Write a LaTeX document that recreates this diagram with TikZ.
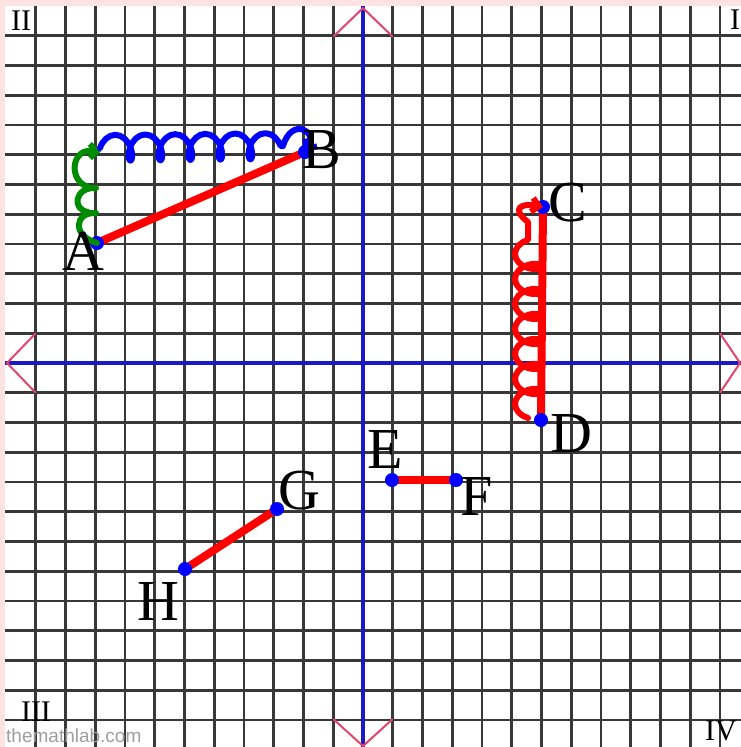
\documentclass[tikz,border=0pt]{standalone}
\usepackage{fontspec}
\setmainfont{Liberation Serif}
\newfontfamily\wmfont{Liberation Sans}
\usetikzlibrary{decorations.pathmorphing,arrows.meta}
\definecolor{pinkbg}{RGB}{255,226,226}
\definecolor{axisblue}{RGB}{25,25,200}
\definecolor{chev}{RGB}{225,70,110}
\definecolor{segred}{RGB}{255,0,0}
\definecolor{dotblue}{RGB}{0,0,255}
\definecolor{coilgreen}{RGB}{0,140,0}
\tikzset{
  gridline/.style={draw=black!78,line width=2.6pt},
  axisline/.style={draw=axisblue,line width=4pt},
  chevron/.style={draw=chev,line width=2pt},
  seg/.style={draw=segred,line width=8pt},
  ptdot/.style={fill=dotblue},
  bigletter/.style={font=\fontsize{58}{58}\selectfont,inner sep=0pt,anchor=base},
  quadlabel/.style={font=\fontsize{30}{30}\selectfont,inner sep=0pt,anchor=base},
  coilpath/.style={line width=6pt,line cap=round,line join=round,
     -{Straight Barb[length=7pt,width=14pt]}},
  coilA/.style={decoration={coil,aspect=0.6,amplitude=13pt,segment length=#1}},
}
\begin{document}
\begin{tikzpicture}[x=1pt,y=-1pt]
\fill[pinkbg] (0,0) rectangle (741,747);
\useasboundingbox (0,0) rectangle (741,747);
\begin{scope}
\clip (5,6) rectangle (741,747);
\fill[white] (5,6) rectangle (741,747);
\foreach \k in {-11,...,12} {
  \draw[gridline] ({363+\k*29.75},6) -- ({363+\k*29.75},747);
  \draw[gridline] (5,{363+\k*29.75}) -- (741,{363+\k*29.75});
}
% axes
\coordinate (xl) at (5,363);
\coordinate (xr) at (741,363);
\coordinate (yt) at (363,6);
\coordinate (yb) at (363,747);
\draw[axisline] (xl) -- (xr);
\draw[axisline] (yt) -- (yb);
% axis chevrons
\draw[chevron] (333.25,36.75) -- (363,8) -- (392.75,36.75);
\draw[chevron] (333.25,719) -- (363,746) -- (392.75,719);
\draw[chevron] (35.75,333.25) -- (7,363) -- (35.75,392.75);
\draw[chevron] (720,333.25) -- (740,363) -- (720,392.75);
% quadrant labels
\node[quadlabel] (qII) at (21,30) {II};
\node[quadlabel] (qI) at (735,29) {I};
\node[quadlabel] (qIII) at (36,721) {III};
\node[quadlabel,anchor=base west] (qIV) at (705,740) {IV};
\end{scope}
\node[font=\wmfont\fontsize{19}{19}\selectfont,text=black!38,inner sep=0pt,anchor=base west] (wm) at (6,742) {themathlab.com};
% points
\coordinate (A) at (97,243);
\coordinate (B) at (305,152);
\coordinate (C) at (543,207);
\coordinate (D) at (541,420);
\coordinate (E) at (392,480);
\coordinate (F) at (456,480);
\coordinate (G) at (277,509);
\coordinate (H) at (185,569);
% coil way points
\coordinate (Ba) at (100,148);
\coordinate (Bb) at (283,146);
\coordinate (Ra) at (528,418);
\coordinate (Rb) at (528,222);
\coordinate (Gc) at (101,151);
% segments
\draw[seg] (A) -- (B);
\draw[seg] (C) -- (D);
\draw[seg] (E) -- (F);
\draw[seg] (G) -- (H);
% dots
\foreach \p in {A,B,C,D,E,F,G,H} { \fill[ptdot] (\p) circle (7pt); }
% coils
\draw[coilpath,draw=coilgreen] (A) .. controls (72,236) and (74,212) .. (96,213)
   .. controls (88,213) and (87,214) .. (88,212)
   .. controls (72,210) and (74,187) .. (96,188)
   .. controls (88,188) and (87,189) .. (88,187)
   .. controls (68,180) and (72,150) .. (90,151) -- (Gc);
\draw[coilpath,draw=dotblue] (Ba) decorate[coilA=30pt]{-- (Bb)} .. controls (292,116) and (318,132) .. (B);
\draw[coilpath,draw=segred] (Ra) decorate[coilA=25pt]{-- (Rb)} .. controls (510,208) and (522,203) .. (C);
% letters
\node[bigletter] (lA) at (83,270) {A};
\node[bigletter] (lB) at (322,168) {B};
\node[bigletter] (lC) at (568,221) {C};
\node[bigletter] (lD) at (571,452) {D};
\node[bigletter] (lE) at (385,468) {E};
\node[bigletter] (lF) at (477,515) {F};
\node[bigletter] (lG) at (299,509) {G};
\node[bigletter] (lH) at (158,620) {H};
\end{tikzpicture}
\end{document}
